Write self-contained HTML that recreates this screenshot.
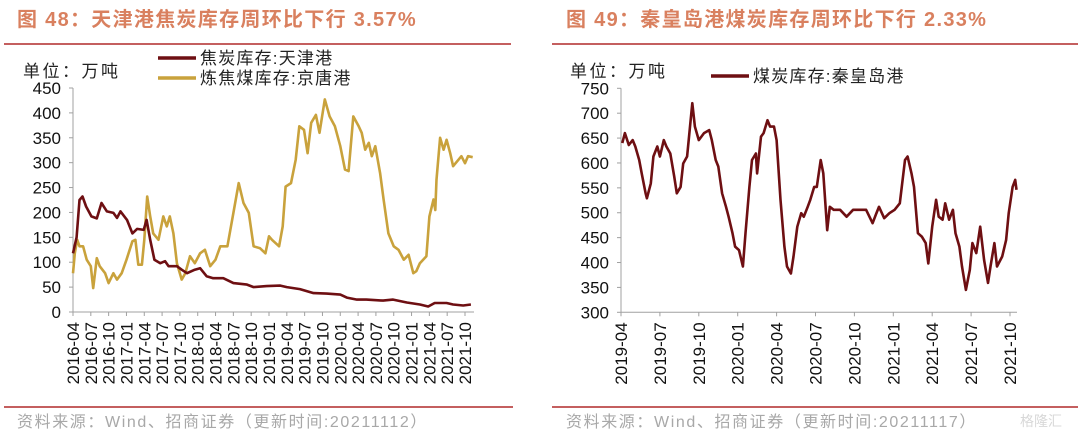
<!DOCTYPE html>
<html><head><meta charset="utf-8">
<style>
body{margin:0;background:#fff;}
svg{display:block;font-family:"Liberation Sans","Noto Sans CJK SC",sans-serif;}
</style></head>
<body>
<svg id="chart" width="1080" height="434" viewBox="0 0 1080 434" xmlns="http://www.w3.org/2000/svg">
<g>
<text x="17" y="26" font-size="20" font-weight="bold" letter-spacing="1.3" fill="#d9805f">图 48：天津港焦炭库存周环比下行 3.57%</text>
<line x1="4" y1="44" x2="511" y2="44" stroke="#b02a2a" stroke-width="1.5"/>
<text x="23" y="77" font-size="17" letter-spacing="2.5" fill="#222">单位：万吨</text>
<line x1="158" y1="58" x2="196" y2="58" stroke="#6e0f12" stroke-width="3.5"/>
<text x="200" y="64" font-size="17" letter-spacing="1.2" fill="#222">焦炭库存:天津港</text>
<line x1="158" y1="78" x2="196" y2="78" stroke="#c9a23c" stroke-width="3.5"/>
<text x="200" y="84" font-size="17" letter-spacing="1.2" fill="#222">炼焦煤库存:京唐港</text>
<line x1="4" y1="407" x2="513" y2="407" stroke="#b02a2a" stroke-width="1.5"/>
<text x="17" y="427" font-size="16" letter-spacing="1.6" fill="#a8a8a8">资料来源：Wind、招商证券（更新时间:20211112）</text>
</g>
<g>
<text x="566" y="26" font-size="20" font-weight="bold" letter-spacing="1.3" fill="#d9805f">图 49：秦皇岛港煤炭库存周环比下行 2.33%</text>
<line x1="552" y1="44" x2="1078" y2="44" stroke="#b02a2a" stroke-width="1.5"/>
<text x="570" y="77" font-size="17" letter-spacing="2.5" fill="#222">单位：万吨</text>
<line x1="711" y1="76" x2="749" y2="76" stroke="#6e0f12" stroke-width="3.5"/>
<text x="753" y="82" font-size="17" letter-spacing="1.2" fill="#222">煤炭库存:秦皇岛港</text>
<line x1="552" y1="407" x2="1078" y2="407" stroke="#b02a2a" stroke-width="1.5"/>
<text x="566" y="427" font-size="16" letter-spacing="1.6" fill="#a8a8a8">资料来源：Wind、招商证券（更新时间:20211117）</text>
<text x="1020" y="426" font-size="14" fill="#d8d8d8">格隆汇</text>
</g>
<g id="plots"></g>
</svg>
<script>
// Left chart data (months since 2016-04)
const leftYTicks = [0,50,100,150,200,250,300,350,400,450];
const leftXLabels = ["2016-04","2016-07","2016-10","2017-01","2017-04","2017-07","2017-10","2018-01","2018-04","2018-07","2018-10","2019-01","2019-04","2019-07","2019-10","2020-01","2020-04","2020-07","2020-10","2021-01","2021-04","2021-07","2021-10"];
const cokeMonths = [0,0.6,1.1,1.6,2.2,3.1,4,4.8,5.7,6.8,7.4,8,9.1,10,10.8,11.9,12.4,13,13.7,14.7,15.5,16.1,17.5,18.3,19.2,20.5,21.4,22.5,23.6,25.3,27,29.3,30.4,32.6,34.9,36,38.2,40.5,42.7,45,46.1,47.8,49.4,52.2,53.9,56.2,58.4,59.8,60.9,62.9,64,65.7,67];
const cokeValues = [118,150,225,232,212,192,188,219,202,199,189,202,185,158,167,165,185,145,105,98,102,92,92,85,78,85,88,72,68,68,58,55,50,52,53,50,46,38,37,35,29,25,25,23,25,19,15,11,18,18,15,13,15];
const coalMonths = [0,0.3,0.7,1.1,1.7,2.3,3,3.4,4,4.5,5.4,6,6.8,7.4,8.2,9,10,10.5,11,11.6,12,12.5,13,13.5,14.4,15.2,15.8,16.3,16.9,17.5,18.3,18.9,19.7,20.5,21.4,22.2,23.1,24,24.8,26,27,27.9,28.7,29.6,30.4,31.5,32.4,33,33.5,34.7,35.3,35.8,36.7,37.5,38.1,38.9,39.5,40.1,40.9,41.5,42.4,43.2,44.1,45,45.8,46.4,47.2,48.1,48.6,49.2,49.8,50.3,50.9,51.7,52.3,53.1,54,54.8,55.7,56.5,57.3,57.8,58.4,59.5,60,60.7,61,61.2,61.8,62.4,62.9,63.5,64,64.9,65.4,66,66.5,67.3];
const coalValues = [78,118,145,132,132,105,92,48,108,92,78,58,78,65,78,105,142,145,95,95,145,232,192,158,145,192,172,192,158,98,65,78,112,98,118,125,92,105,132,132,199,259,219,199,132,128,118,152,145,132,172,252,259,306,373,366,319,380,396,360,427,393,373,333,286,283,393,373,360,326,340,313,333,279,226,158,132,125,105,115,78,82,98,112,192,226,205,266,350,326,346,319,293,306,313,299,313,311];
// Right chart data (months since 2019-04)
const rightYTicks = [300,350,400,450,500,550,600,650,700,750];
const rightXLabels = ["2019-04","2019-07","2019-10","2020-01","2020-04","2020-07","2020-10","2021-01","2021-04","2021-07","2021-10"];
const qhdMonths = [0.1,0.3,0.6,0.9,1.1,1.4,1.6,1.9,2.0,2.3,2.5,2.8,3.0,3.3,3.5,3.8,4.1,4.3,4.6,4.8,5.1,5.5,5.7,6.0,6.4,6.8,7.0,7.3,7.5,7.8,8.1,8.3,8.6,8.8,9.1,9.4,9.6,9.9,10.1,10.4,10.5,10.8,11.0,11.3,11.5,11.8,12.0,12.3,12.6,12.8,13.1,13.3,13.6,13.9,14.1,14.4,14.6,14.9,15.1,15.4,15.6,15.9,16.1,16.4,16.9,17.4,17.9,18.4,18.9,19.4,19.7,19.9,20.3,20.7,21.1,21.5,21.9,22.1,22.4,22.6,22.9,23.2,23.5,23.7,24.0,24.3,24.5,24.8,25.0,25.3,25.6,25.8,26.1,26.3,26.6,26.9,27.1,27.4,27.7,28.0,28.3,28.5,28.8,29.0,29.4,29.7,29.9,30.2,30.4,30.5];
const qhdValues = [640,660,636,646,633,606,579,539,529,559,613,633,613,646,633,619,573,539,552,599,613,720,673,646,660,666,646,606,593,539,512,492,459,432,425,392,459,552,606,619,579,653,660,686,673,673,646,526,432,392,378,412,472,499,492,512,526,552,552,606,579,465,512,506,506,492,506,506,506,479,499,512,489,499,506,519,606,613,579,552,459,452,439,398,472,526,492,486,519,486,506,459,432,392,345,385,439,419,472,405,359,392,439,392,412,445,499,552,566,546];

const NS = "http://www.w3.org/2000/svg";
const plots = document.getElementById('plots');
function mk(tag, attrs, parent){ const e=document.createElementNS(NS,tag); for(const k in attrs) e.setAttribute(k,attrs[k]); (parent||plots).appendChild(e); return e; }

function drawPanel(cfg){
  const g = mk('g',{});
  
  
  const xs = m => cfg.x0 + m*cfg.pxPerMonth;
  const ys = v => cfg.yBottom - (v-cfg.yMin)/(cfg.yMax-cfg.yMin)*(cfg.yBottom-cfg.yTop);
  const yAxis = mk('line',{x1:cfg.x0,y1:cfg.yTop,x2:cfg.x0,y2:cfg.yBottom,stroke:'#a0a0a0','stroke-width':1},g);
  
  
  const xAxis = mk('line',{x1:cfg.x0,y1:cfg.yBottom,x2:cfg.xEnd,y2:cfg.yBottom,stroke:'#a0a0a0','stroke-width':1},g);
  
  
  cfg.yTicks.forEach(v=>{
    const y=ys(v);
    const t = mk('line',{x1:cfg.x0-4,y1:y,x2:cfg.x0,y2:y,stroke:'#a0a0a0'},g);
    
    
    const l = mk('text',{x:cfg.x0-12,y:y+6,'text-anchor':'end','font-size':17,fill:'#111'},g);
    l.textContent = v;
    
    
  });
  cfg.xLabels.forEach((s,i)=>{
    const x=xs(i*3);
    const t = mk('line',{x1:x,y1:cfg.yBottom,x2:x,y2:cfg.yBottom+4,stroke:'#a0a0a0'},g);
    
    
    const l = mk('text',{x:0,y:0,'text-anchor':'end','font-size':17,fill:'#111',transform:`translate(${x+6},${cfg.yBottom+10}) rotate(-90)`},g);
    l.textContent = s;
    
    
  });
  cfg.series.forEach(s=>{
    const d = s.months.map((m,i)=>(i?'L':'M')+xs(m).toFixed(1)+','+ys(s.values[i]).toFixed(1)).join(' ');
    const p = mk('path',{d:d,fill:'none',stroke:s.color,'stroke-width':2.6,'stroke-linejoin':'round'},g);
    
    
  });
}

drawPanel({name:'left-chart',x0:73,xEnd:474,pxPerMonth:(465-73)/66,yTop:88,yBottom:312,yMin:0,yMax:450,
  yTicks:leftYTicks,xLabels:leftXLabels,
  series:[{name:'coking-coal-line',months:coalMonths,values:coalValues,color:'#c9a23c'},
          {name:'coke-line',months:cokeMonths,values:cokeValues,color:'#6e0f12'}]});
drawPanel({name:'right-chart',x0:621,xEnd:1017,pxPerMonth:(1010-621)/30,yTop:88.3,yBottom:312.3,yMin:300,yMax:750,
  yTicks:rightYTicks,xLabels:rightXLabels,
  series:[{name:'qhd-coal-line',months:qhdMonths,values:qhdValues,color:'#6e0f12'}]});
</script>
</body></html>
